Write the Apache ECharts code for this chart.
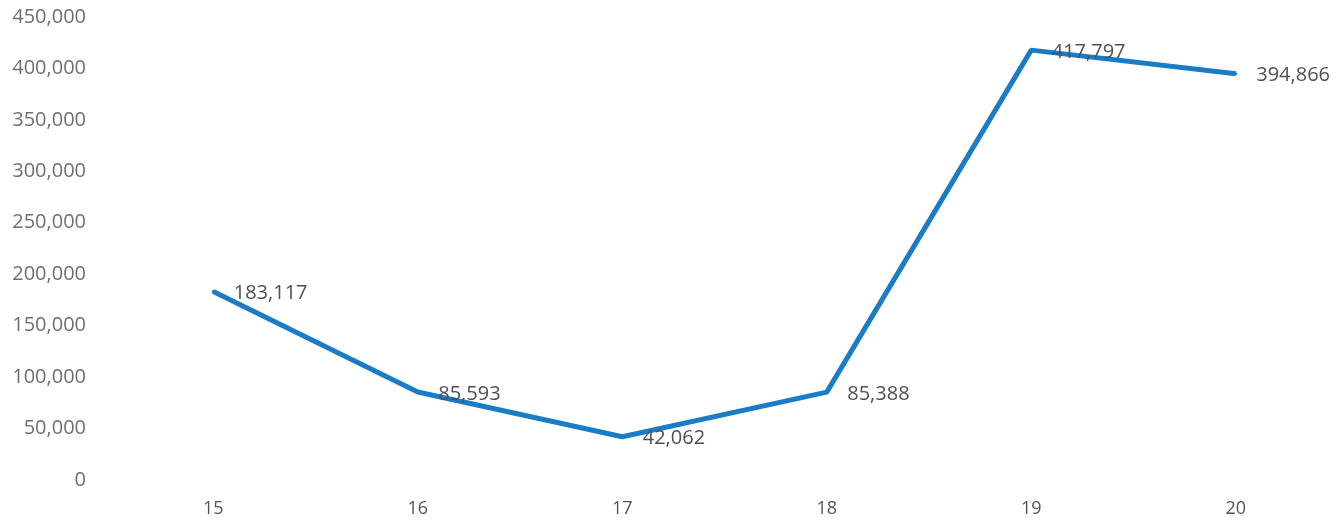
<!DOCTYPE html>
<html>
<head>
<meta charset="utf-8">
<script src="https://cdn.jsdelivr.net/npm/echarts@6/dist/echarts.min.js"></script>
<style>
  html, body { margin: 0; padding: 0; background: #fff; }
  #main { width: 1341px; height: 523px; }
</style>
</head>
<body>
<div id="main"></div>
<script>
const categories = ['15', '16', '17', '18', '19', '20']
const values = [183117, 85593, 42062, 85388, 417797, 394866]

const main = document.getElementById('main')
var myChart = echarts.init(main)

myChart.setOption({
  animation: false,
  textStyle: { fontFamily: 'Open Sans' },
  grid: { left: 111, right: 3, top: 17, bottom: 43 },
  xAxis: {
    type: 'category',
    data: categories,
    boundaryGap: true,
    axisLine: { show: false },
    axisTick: { show: false },
    axisLabel: { color: '#555', fontSize: 18, margin: 20 }
  },
  yAxis: {
    type: 'value',
    min: 0,
    max: 450000,
    interval: 50000,
    splitLine: { show: false },
    axisLine: { show: false },
    axisTick: { show: false },
    axisLabel: {
      color: '#707070',
      fontSize: 20,
      margin: 25,
      formatter: v => v.toLocaleString('en-US')
    }
  },
  series: [{
    type: 'line',
    data: values,
    symbol: 'circle',
    symbolSize: 3,
    showSymbol: true,
    itemStyle: { color: '#1a7cc6' },
    lineStyle: { color: '#1a7cc6', width: 5 },
    label: {
      show: true,
      position: 'right',
      distance: 19,
      offset: [0, 2],
      color: '#505050',
      fontSize: 20,
      formatter: p => p.value.toLocaleString('en-US')
    }
  }]
})
</script>
</body>
</html>
